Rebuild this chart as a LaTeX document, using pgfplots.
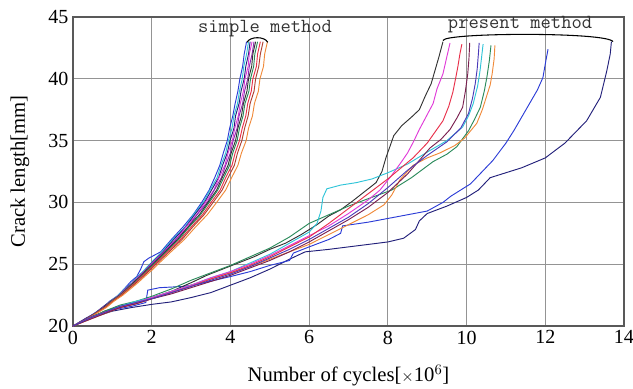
\documentclass[border=0pt]{standalone}
\usepackage{pgfplots}
\pgfplotsset{compat=1.18}
\usepackage{fontspec}
\setmainfont{Liberation Serif}
\definecolor{cblue}{RGB}{43,60,214}
\definecolor{ccyan}{RGB}{47,196,216}
\definecolor{cnavy}{RGB}{34,32,122}
\definecolor{cmag}{RGB}{224,58,216}
\definecolor{cpurp}{RGB}{138,43,176}
\definecolor{cblack}{RGB}{50,50,50}
\definecolor{cgreen}{RGB}{42,138,90}
\definecolor{cred}{RGB}{232,48,74}
\definecolor{cbrown}{RGB}{176,64,48}
\definecolor{corange}{RGB}{240,138,58}
\definecolor{cmaroon}{RGB}{122,32,80}
\definecolor{cviolet}{RGB}{74,58,184}
\begin{document}
\begin{tikzpicture}
\begin{axis}[
  at={(0,0)}, anchor=south west,
  scale only axis, width=413.25pt, height=231.75pt,
  xmin=0, xmax=14, ymin=20, ymax=45,
  xtick={0,2,...,14}, ytick={20,25,...,45},
  grid=major,
  grid style={line width=0.75pt, color=black!42},
  axis line style={line width=0.9pt, color=black!65},
  major tick length=0pt,
  tick label style={font=\fontsize{15}{18}\selectfont},
  /pgf/number format/assume math mode=true,
  xlabel={Number of cycles[{\fontsize{13}{15}\selectfont$\times$}10$^{6}$]},
  ylabel={Crack length[mm]},
  label style={font=\fontsize{15.5}{18}\selectfont},
  xlabel style={at={(axis description cs:0.5,-0.18)}, anchor=base},
  ylabel style={at={(axis description cs:-0.0962,0.5)}, anchor=center},
  clip=false,
  every axis plot/.append style={line width=0.7pt, mark=none},
]
% simple method
\addplot[cblue] coordinates {(0,20)(0.30,20.5)(0.53,21)(0.75,21.4)(0.93,22)(1.12,22.4)(1.30,23)(1.47,23.6)(1.62,24)(1.72,24.6)(1.80,25.2)(1.93,25.5)(2.23,26)(2.50,27)(2.79,28)(3.05,29)(3.27,30)(3.46,31)(3.60,32)(3.73,33)(3.82,34)(3.92,35)(3.98,36)(4.06,37)(4.12,38)(4.19,39)(4.24,40)(4.31,41)(4.35,42)(4.41,43)};
\addplot[ccyan] coordinates {(0,20)(0.28,20.5)(0.53,21)(0.76,21.5)(0.94,22)(1.15,22.5)(1.31,23)(1.50,23.5)(1.64,24)(1.80,24.5)(1.95,25)(2.26,26)(2.53,27)(2.84,28)(3.06,29)(3.31,30)(3.48,31)(3.66,32)(3.76,33)(3.88,34)(3.95,35)(4.04,36)(4.09,37)(4.18,38)(4.23,39)(4.30,40)(4.34,41)(4.41,42)(4.46,43)};
\addplot[cnavy] coordinates {(0,20)(0.31,20.6)(0.54,21)(0.78,21.6)(0.95,22)(1.14,22.4)(1.33,23)(1.48,23.4)(1.66,24)(1.81,24.4)(1.97,25)(2.29,26)(2.56,27)(2.86,28)(3.09,29)(3.34,30)(3.52,31)(3.70,32)(3.80,33)(3.92,34)(3.99,35)(4.09,36)(4.13,37)(4.22,38)(4.27,39)(4.35,40)(4.39,41)(4.46,42)(4.50,43)};
\addplot[cmag] coordinates {(0,20)(0.29,20.5)(0.54,21)(0.77,21.5)(0.96,22)(1.17,22.5)(1.34,23)(1.52,23.5)(1.67,24)(1.84,24.5)(1.99,25)(2.31,26)(2.61,27)(2.87,28)(3.14,29)(3.36,30)(3.58,31)(3.71,32)(3.86,33)(3.94,34)(4.05,35)(4.11,36)(4.20,37)(4.25,38)(4.33,39)(4.37,40)(4.45,41)(4.48,42)(4.55,43)};
\addplot[cpurp] coordinates {(0,20)(0.30,20.5)(0.55,21)(0.79,21.5)(0.97,22)(1.18,22.5)(1.35,23)(1.54,23.5)(1.69,24)(1.85,24.5)(2.01,25)(2.33,26)(2.62,27)(2.92,28)(3.15,29)(3.41,30)(3.59,31)(3.77,32)(3.88,33)(4.00,34)(4.07,35)(4.17,36)(4.22,37)(4.31,38)(4.36,39)(4.44,40)(4.48,41)(4.55,42)(4.60,43)};
\addplot[cblack] coordinates {(0,20)(0.30,20.5)(0.55,21)(0.78,21.5)(0.97,22)(1.19,22.5)(1.37,23)(1.53,23.5)(1.71,24)(1.86,24.5)(2.03,25)(2.34,26)(2.66,27)(2.92,28)(3.21,29)(3.43,30)(3.65,31)(3.79,32)(3.94,33)(4.02,34)(4.13,35)(4.19,36)(4.28,37)(4.33,38)(4.42,39)(4.46,40)(4.54,41)(4.57,42)(4.64,43)};
\addplot[cgreen] coordinates {(0,20)(0.31,20.5)(0.56,21)(0.80,21.5)(0.98,22)(1.20,22.5)(1.38,23)(1.56,23.5)(1.73,24)(1.89,24.5)(2.05,25)(2.37,26)(2.69,27)(2.95,28)(3.24,29)(3.46,30)(3.68,31)(3.83,32)(3.98,33)(4.06,34)(4.17,35)(4.23,36)(4.32,37)(4.37,38)(4.47,39)(4.51,40)(4.59,41)(4.62,42)(4.69,43)};
\addplot[cred] coordinates {(0,20)(0.32,20.5)(0.57,21)(0.81,21.5)(1.00,22)(1.22,22.5)(1.40,23)(1.58,23.5)(1.75,24)(1.92,24.5)(2.08,25)(2.40,26)(2.73,27)(3.00,28)(3.29,29)(3.51,30)(3.74,31)(3.88,32)(4.04,33)(4.12,34)(4.23,35)(4.30,36)(4.39,37)(4.44,38)(4.53,39)(4.57,40)(4.66,41)(4.69,42)(4.76,43)};
\addplot[cbrown] coordinates {(0,20)(0.32,20.5)(0.57,21)(0.83,21.5)(1.01,22)(1.24,22.5)(1.42,23)(1.61,23.5)(1.78,24)(1.95,24.5)(2.11,25)(2.44,26)(2.77,27)(3.04,28)(3.33,29)(3.56,30)(3.79,31)(3.94,32)(4.10,33)(4.18,34)(4.29,35)(4.36,36)(4.45,37)(4.50,38)(4.60,39)(4.64,40)(4.72,41)(4.76,42)(4.83,43)};
\addplot[corange] coordinates {(0,20)(0.33,20.5)(0.59,21)(0.85,21.5)(1.04,22)(1.27,22.5)(1.46,23)(1.65,23.5)(1.82,24)(2.00,24.5)(2.16,25)(2.49,26)(2.83,27)(3.11,28)(3.41,29)(3.65,30)(3.88,31)(4.03,32)(4.19,33)(4.28,34)(4.40,35)(4.46,36)(4.56,37)(4.61,38)(4.71,39)(4.75,40)(4.84,41)(4.87,42)(4.94,43)};
% present method
\addplot[cnavy] coordinates {(0,20)(0.5,20.7)(1,21.2)(1.5,21.5)(2,21.75)(2.5,21.95)(3,22.3)(3.5,22.7)(4,23.3)(4.5,23.9)(5,24.6)(5.5,25.4)(5.9,26.0)(6.5,26.2)(7,26.4)(7.5,26.6)(8,26.8)(8.4,27.1)(8.7,27.8)(8.8,28.5)(9.0,29.1)(9.5,29.7)(10,30.4)(10.3,31.0)(10.6,32.0)(11.0,32.4)(11.4,32.8)(12.0,33.6)(12.5,34.8)(13.05,36.6)(13.4,38.5)(13.56,40.6)(13.65,42)(13.68,43)};
\addplot[cblue] coordinates {(0,20)(0.5,20.8)(1,21.3)(1.5,21.6)(1.85,21.9)(1.9,22.9)(2.2,23.1)(2.8,23.2)(3.2,23.4)(4,24.0)(4.5,24.4)(5,24.9)(5.5,25.3)(5.6,25.9)(6,26.4)(6.5,27.0)(6.8,27.5)(6.85,28.1)(7.5,28.4)(8,28.7)(8.5,29.0)(9,29.3)(9.4,30.0)(9.6,30.5)(10.1,31.5)(10.4,32.5)(10.67,33.4)(11.0,34.8)(11.2,35.8)(11.4,36.9)(11.6,38)(11.8,39.1)(11.94,40.1)(12.0,41.2)(12.07,42.4)};
\addplot[cblack] coordinates {(0,20)(0.4,20.6)(0.8,21.2)(1.2,21.6)(1.6,21.9)(2,22.3)(2.5,22.8)(3,23.5)(3.4,24.1)(3.8,24.6)(4.2,25.1)(4.6,25.6)(5,26.2)(5.4,26.7)(5.8,27.4)(6.2,28.2)(6.5,28.9)(6.8,29.4)(7.1,30.1)(7.5,31.1)(7.7,31.6)(7.85,32.5)(7.95,33.6)(8.05,34.5)(8.15,35.4)(8.35,36.2)(8.6,36.9)(8.8,37.5)(8.95,38.6)(9.1,39.6)(9.2,40.7)(9.3,41.8)(9.4,43.0)};
\addplot[cgreen] coordinates {(0,20)(0.4,20.6)(0.8,21.2)(1.2,21.7)(1.6,22.0)(2,22.4)(2.5,23.0)(3,23.7)(3.5,24.3)(4,24.9)(4.5,25.6)(5,26.3)(5.5,27.2)(6,28.3)(6.5,29.0)(7,29.7)(7.5,30.3)(8.1,31.0)(8.6,32.0)(9.15,33.3)(9.5,33.9)(9.75,34.5)(10.05,35.8)(10.2,36.7)(10.35,37.7)(10.45,39.0)(10.52,40.2)(10.58,41.5)(10.62,42.7)};
\addplot[corange] coordinates {(0,20)(0.4,20.5)(0.8,21.0)(1.2,21.5)(1.6,21.8)(2,22.2)(2.5,22.7)(3,23.3)(3.5,23.8)(4,24.3)(4.5,24.8)(5,25.4)(5.5,26.0)(6,26.6)(6.5,27.4)(7,28.2)(7.5,29.0)(7.9,29.8)(8.1,30.6)(8.3,31.8)(8.64,33.0)(9.0,33.6)(9.32,34.0)(9.7,34.6)(9.95,35.2)(10.26,36.4)(10.4,37.5)(10.5,38.5)(10.6,39.5)(10.65,40.4)(10.7,41.6)(10.72,42.7)};
\addplot[ccyan] coordinates {(0,20)(0.4,20.6)(0.8,21.1)(1.2,21.6)(1.6,22.0)(2,22.3)(2.5,22.8)(3,23.3)(3.5,23.9)(4,24.4)(4.5,25.1)(5,25.8)(5.5,26.7)(6,27.6)(6.2,28.3)(6.3,29.3)(6.35,30.4)(6.45,31.1)(6.8,31.4)(7.2,31.6)(7.6,31.9)(8.0,32.4)(8.5,33.1)(9.07,34.2)(9.5,35.0)(9.9,36.1)(10.05,37.0)(10.17,38.0)(10.28,39.4)(10.34,40.6)(10.38,41.7)(10.42,42.8)};
\addplot[cmag] coordinates {(0,20)(0.4,20.6)(0.8,21.1)(1.2,21.5)(1.6,21.9)(2,22.3)(2.5,22.8)(3,23.3)(3.5,23.9)(4,24.4)(4.5,25.0)(5,25.7)(5.5,26.5)(6,27.3)(6.5,28.1)(7,29.1)(7.5,30.2)(7.8,31.0)(8.1,32.2)(8.35,33.3)(8.5,34.0)(8.65,34.9)(8.8,35.9)(8.95,36.8)(9.15,38.0)(9.25,39.2)(9.4,40.4)(9.5,41.8)(9.58,42.9)};
\addplot[cred] coordinates {(0,20)(0.4,20.6)(0.8,21.1)(1.2,21.5)(1.6,21.8)(2,22.2)(2.5,22.7)(3,23.2)(3.5,23.8)(4,24.3)(4.5,24.9)(5,25.6)(5.5,26.4)(6,27.2)(6.5,28.3)(7,29.5)(7.5,30.7)(8.0,31.9)(8.3,32.7)(8.64,33.6)(9.0,34.8)(9.2,35.7)(9.4,36.6)(9.55,37.8)(9.65,38.9)(9.72,40.0)(9.78,41.0)(9.83,42.0)(9.88,42.8)};
\addplot[cmaroon] coordinates {(0,20)(0.4,20.5)(0.8,21.0)(1.2,21.5)(1.6,21.8)(2,22.2)(2.5,22.6)(3,23.1)(3.5,23.6)(4,24.1)(4.5,24.7)(5,25.3)(5.5,26.0)(6,26.8)(6.5,27.7)(7,28.6)(7.5,29.6)(8,30.8)(8.5,32.3)(8.8,33.4)(9.07,34.4)(9.35,35.1)(9.58,35.9)(9.75,36.8)(9.9,37.7)(9.97,39.0)(10.03,40.4)(10.06,41.6)(10.08,42.9)};
\addplot[cviolet] coordinates {(0,20)(0.4,20.6)(0.8,21.1)(1.2,21.6)(1.6,21.9)(2,22.2)(2.5,22.7)(3,23.2)(3.5,23.7)(4,24.2)(4.5,24.8)(5,25.5)(5.5,26.2)(6,27.0)(6.5,27.9)(7,28.8)(7.5,29.9)(8,31.2)(8.5,32.6)(9.0,33.8)(9.5,34.9)(9.85,36.0)(10.05,37.2)(10.15,38.4)(10.22,39.6)(10.27,40.8)(10.3,42.0)(10.32,42.9)};
% annotations
\node[font=\ttfamily\fontsize{15}{18}\selectfont, anchor=center, text=black!80] at (axis cs:4.88,44.1) {simple method};
\node[font=\ttfamily\fontsize{15}{18}\selectfont, anchor=center, text=black!80] at (axis cs:11.36,44.4) {present method};
\draw[line width=0.8pt, black] (axis cs:4.42,42.95) .. controls (axis cs:4.5,43.45) and (axis cs:4.87,43.45) .. (axis cs:4.95,42.95);
\draw[line width=0.8pt, black] (axis cs:9.4,43.1) .. controls (axis cs:9.45,43.75) and (axis cs:13.6,43.8) .. (axis cs:13.72,43.0);
\end{axis}
\pgfresetboundingbox
\path (-54.75pt,-47.25pt) rectangle (420pt,244.5pt);
\end{tikzpicture}
\end{document}
